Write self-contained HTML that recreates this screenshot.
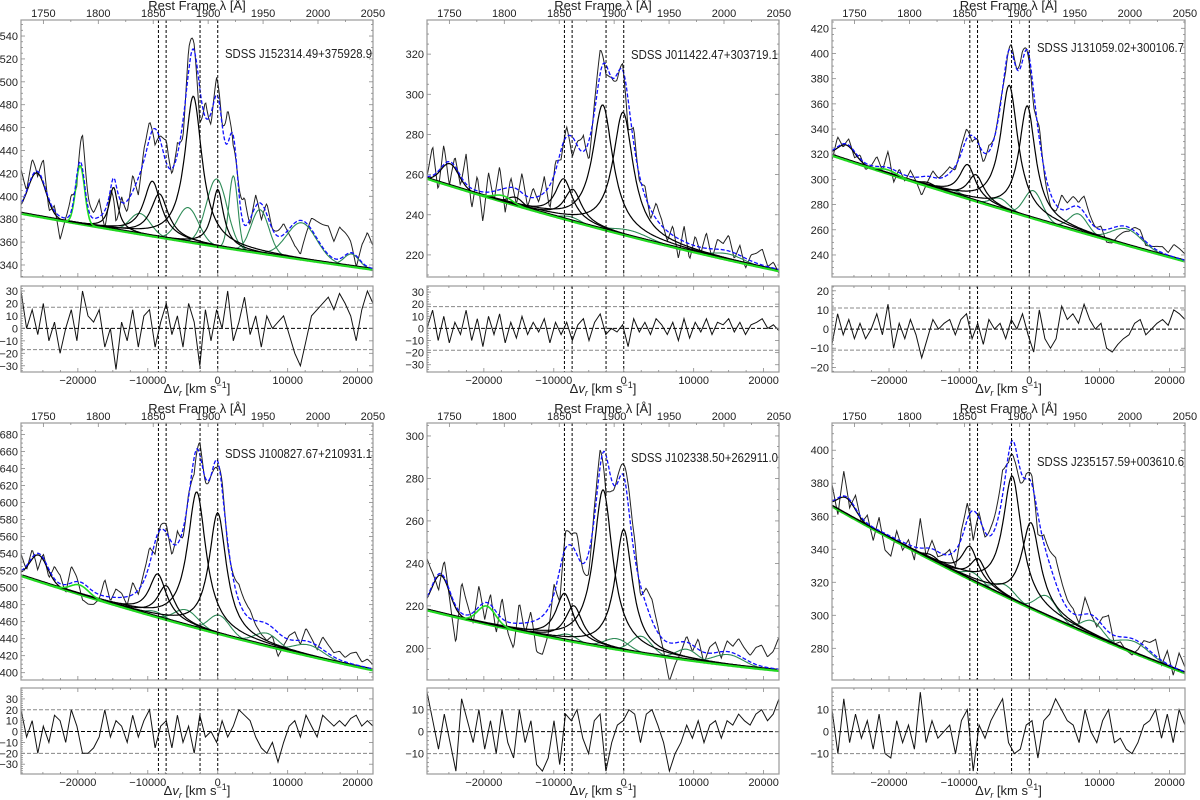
<!DOCTYPE html>
<html><head><meta charset="utf-8">
<style>
body{margin:0;background:#fff;width:1200px;height:800px;overflow:hidden;font-family:"Liberation Sans","DejaVu Sans",sans-serif}
svg{display:block}
</style></head>
<body>
<svg id="fig" width="1200" height="800" viewBox="0 0 1200 800" xmlns="http://www.w3.org/2000/svg"></svg>
<script>
// ---------- DATA (velocities km/s, fluxes) ----------
const vMin = -28130, vMax = 22200;
const vLinesKms = [-8480, -7380, -2530, 0];
const velTicks = [-20000, -10000, 0, 10000, 20000];
const lamTicks = [1750, 1800, 1850, 1900, 1950, 2000, 2050];
const panelNames = ["SDSS J152314.49+375928.9","SDSS J011422.47+303719.1","SDSS J131059.02+300106.7","SDSS J100827.67+210931.1","SDSS J102338.50+262911.0","SDSS J235157.59+003610.6"];

// continuum: [left, v=0, right]
const p1Cont = [385, 356, 336];
const p2Cont = [258, 230, 212];
const p3Cont = [319, 270, 235];
const p4Cont = [514, 446, 403];
const p5Cont = [218, 199, 189.5];
const p6Cont = [366, 304.6, 265];
// black components: [center, amplitude, FWHM, shape(0=gauss,1=lorentz)]
const p1Black = [[-25860,38,3000,0],[-14900,37,1500,1],[-9340,48,3000,1],[-8340,38,3000,1],[-3490,128,3000,1],[0,50,2000,1]];
const p2Black = [[-24850,11,3000,0],[-15470,4,2500,0],[-8570,20,3000,1],[-7280,16,3000,1],[-3000,62,3500,1],[-95,61,3500,1]];
const p3Black = [[-26090,12,3000,0],[-14420,3,2500,0],[-8810,27,2800,1],[-7620,21,2800,1],[-2860,100,3000,1],[-290,88,2800,1]];
const p4Black = [[-25610,31,3000,0],[-8570,51,3000,1],[-7380,40,3000,1],[-3000,160,3200,1],[0,142,3000,1]];
const p5Black = [[-26180,18,3000,0],[-8470,22,3000,1],[-7140,17,3000,1],[-2950,74,3300,1],[0,57,3000,1]];
const p6Black = [[-26090,10,3000,0],[-13950,3,2500,0],[-8470,20,2800,1],[-7280,15,2800,1],[-2430,75,3200,1],[240,52,3200,1]];
// bright green gaussians: [center, amp, FWHM]
const p1Bright = [[-19670,51,1500]];
const p2Bright = [[-17280,3,3000]];
const p3Bright = [[-20130,3,3000]];
const p4Bright = [[-19750,11,3000]];
const p5Bright = [[-19610,8.5,3000]];
const p6Bright = [];
// dark green gaussians: [center, amp, FWHM]
const p1Green = [[-11100,18,3500],[-4240,30,3500],[-150,59,3500],[2230,64,1500],[6040,38,3000],[12000,32,5000],[19140,11,2500]];
const p2Green = [[-7500,2,3000],[1000,3,6000],[15000,3,5000]];
const p3Green = [[-10610,3,3000],[-4190,8,3000],[570,22,3000],[7000,14,3000],[13900,13,5000]];
const p4Green = [[-9000,6,3000],[-4500,18,4000],[200,22,3500],[7000,15,4000],[13000,13,5000]];
const p5Green = [[-8000,3,3000],[-1000,5,4000],[2500,8,3500],[9000,5,3500],[15000,5,5000]];
const p6Green = [[-8000,5,3000],[-3500,7,3500],[2500,12,3500],[9000,9,3500],[15000,7,5000]];
// residuals (evenly spaced over velocity range)
const p1Resid = [30,0,15,-5,20,-10,5,-20,0,15,-10,30,10,5,15,-15,0,-33,5,-10,15,-15,10,15,-15,5,20,-5,10,-15,20,5,-30,15,-10,15,0,30,-10,5,25,-5,10,-15,10,0,5,10,-5,-20,-30,-10,10,15,20,25,15,28,20,10,-10,15,30,20];
const p2Resid = [0,15,-10,10,-12,5,-5,15,-10,8,-15,10,-5,12,-12,5,-8,10,-5,5,-3,8,-12,5,-5,5,-10,3,8,-10,5,12,-5,0,-3,3,-15,8,-3,5,-5,8,3,-5,5,-10,8,-8,5,-3,8,-5,5,3,8,-3,5,-5,3,5,8,0,3,-2];
const p3Resid = [-8,8,-3,5,-5,3,-5,0,8,-3,13,-10,3,-5,5,-3,-15,-5,5,0,3,5,-3,5,8,-5,3,-8,5,0,3,-5,5,0,8,-3,-12,10,-5,-10,-5,12,5,8,3,13,5,0,3,-10,-12,-8,-5,-3,3,5,-3,0,3,5,2,10,8,5];
const p4Resid = [20,-5,10,-20,5,-10,15,10,-10,20,5,-20,-20,-15,-5,20,-5,10,5,-10,15,-5,10,20,-15,5,10,-15,15,-10,5,-20,15,-5,0,-10,10,-5,5,20,15,10,-5,-15,-20,-10,-28,-10,5,10,-5,15,5,-5,15,10,5,10,5,12,15,5,10,5];
const p5Resid = [18,5,-8,8,-5,-18,15,5,-5,10,-8,5,-10,10,-5,-12,10,-5,5,-15,-18,-12,5,-15,8,5,10,-3,-10,5,8,-18,-5,3,5,10,8,-5,8,10,3,-5,-18,-10,-5,3,-3,5,-5,3,5,-3,5,3,8,5,3,8,10,5,8,15];
const p6Resid = [10,-10,15,-5,8,-3,5,-8,8,-10,-12,5,-5,3,-8,18,-5,5,-3,0,3,-10,5,10,-18,3,-3,5,10,15,-5,-10,-8,3,5,-12,5,8,15,10,5,3,-5,10,0,-5,5,10,-5,-3,-8,-10,-5,3,5,10,-3,8,-5,10,3];
// axis limits and ticks
const p1Y = [329.5,554], p1YT = [340,360,380,400,420,440,460,480,500,520,540], p1R = [-35,34], p1RT = [-30,-20,-10,0,10,20,30], p1S = 17;
const p2Y = [209,337], p2YT = [220,240,260,280,300,320], p2R = [-36,35], p2RT = [-30,-20,-10,0,10,20,30], p2S = 18;
const p3Y = [222.5,426.6], p3YT = [240,260,280,300,320,340,360,380,400,420], p3R = [-22.4,22.5], p3RT = [-20,-10,0,10,20], p3S = 11;
const p4Y = [391.4,693.6], p4YT = [400,420,440,460,480,500,520,540,560,580,600,620,640,660,680], p4R = [-39,40], p4RT = [-30,-20,-10,0,10,20,30], p4S = 20;
const p5Y = [185.1,306.1], p5YT = [200,220,240,260,280,300], p5R = [-19.3,19.9], p5RT = [-10,0,10], p5S = 10;
const p6Y = [260.8,416.5], p6YT = [280,300,320,340,360,380,400], p6R = [-19.3,19.9], p6RT = [-10,0,10], p6S = 10;

const panels = [
 {cont:p1Cont,black:p1Black,bright:p1Bright,green:p1Green,resid:p1Resid,y:p1Y,yt:p1YT,r:p1R,rt:p1RT,s:p1S,x0:21,x1:373,t:20,b:277,rt0:286,rb:372,lx:225,ly:58},
 {cont:p2Cont,black:p2Black,bright:p2Bright,green:p2Green,resid:p2Resid,y:p2Y,yt:p2YT,r:p2R,rt:p2RT,s:p2S,x0:427,x1:779,t:20,b:277,rt0:286,rb:372,lx:631,ly:59},
 {cont:p3Cont,black:p3Black,bright:p3Bright,green:p3Green,resid:p3Resid,y:p3Y,yt:p3YT,r:p3R,rt:p3RT,s:p3S,x0:832,x1:1185,t:20,b:277,rt0:286,rb:372,lx:1037,ly:52},
 {cont:p4Cont,black:p4Black,bright:p4Bright,green:p4Green,resid:p4Resid,y:p4Y,yt:p4YT,r:p4R,rt:p4RT,s:p4S,x0:21,x1:373,t:423,b:680,rt0:688,rb:774,lx:225,ly:458},
 {cont:p5Cont,black:p5Black,bright:p5Bright,green:p5Green,resid:p5Resid,y:p5Y,yt:p5YT,r:p5R,rt:p5RT,s:p5S,x0:427,x1:779,t:423,b:680,rt0:688,rb:774,lx:631,ly:462},
 {cont:p6Cont,black:p6Black,bright:p6Bright,green:p6Green,resid:p6Resid,y:p6Y,yt:p6YT,r:p6R,rt:p6RT,s:p6S,x0:832,x1:1185,t:423,b:680,rt0:688,rb:774,lx:1037,ly:466}
];

// ---------- RENDER ----------
const NS = "http://www.w3.org/2000/svg";
const fig = document.getElementById('fig');
function mk(tag, attrs, parent){const e=document.createElementNS(NS,tag);for(const k in attrs)e.setAttribute(k,attrs[k]);(parent||fig).appendChild(e);return e;}
function contAt(c,v){const a=vMin,b=0,d=vMax;
 return c[0]*(v-b)*(v-d)/((a-b)*(a-d))+c[1]*(v-a)*(v-d)/((b-a)*(b-d))+c[2]*(v-a)*(v-b)/((d-a)*(d-b));}
function prof(comp,v,lor){const [c,a,w]=comp;const z=(v-c)/(w/2);
 return lor? a/(1+z*z) : a*Math.exp(-Math.LN2*z*z);}
function interp(arr,v){const t=(v-vMin)/(vMax-vMin)*(arr.length-1);const i=Math.max(0,Math.min(arr.length-2,Math.floor(t)));const f=t-i;return arr[i]*(1-f)+arr[i+1]*f;}
const N=360, vs=[];for(let i=0;i<=N;i++)vs.push(vMin+(vMax-vMin)*i/N);
const C=299792.458, L0=1908.73;

panels.forEach((P,pi)=>{
 const g=mk('g',{});
 
 
 const X=v=>P.x0+(v-vMin)/(vMax-vMin)*(P.x1-P.x0);
 const Y=f=>P.b-(f-P.y[0])/(P.y[1]-P.y[0])*(P.b-P.t);
 const R=f=>P.rb-(f-P.r[0])/(P.r[1]-P.r[0])*(P.rb-P.rt0);
 const cid='clipm'+pi, rid='clipr'+pi;
 const defs=mk('defs',{},g);
 mk('rect',{x:P.x0,y:P.t,width:P.x1-P.x0,height:P.b-P.t},mk('clipPath',{id:cid},defs));
 mk('rect',{x:P.x0,y:P.rt0,width:P.x1-P.x0,height:P.rb-P.rt0},mk('clipPath',{id:rid},defs));
 const gm=mk('g',{'clip-path':'url(#'+cid+')'},g);
 const gr=mk('g',{'clip-path':'url(#'+rid+')'},g);
 const path=(fn,sc)=>vs.map((v,i)=>(i?'L':'M')+X(v).toFixed(1)+','+sc(fn(v)).toFixed(1)).join('');
 const model=v=>{let s=contAt(P.cont,v);P.black.forEach(c=>s+=prof(c,v,c[3]===1));P.bright.forEach(c=>s+=prof(c,v,false));P.green.forEach(c=>s+=prof(c,v,false));return s;};
 let e=mk('path',{d:path(v=>model(v)+interp(P.resid,v),Y),fill:'none',stroke:'#222','stroke-width':1},gm);
 
 
 P.green.forEach((c,k)=>{const el=mk('path',{d:path(v=>contAt(P.cont,v)+prof(c,v,false),Y),fill:'none',stroke:'#2e8b57','stroke-width':1.1},gm);
  
  });
 P.black.forEach((c,k)=>{const el=mk('path',{d:path(v=>contAt(P.cont,v)+prof(c,v,c[3]===1),Y),fill:'none',stroke:'#000','stroke-width':1.2},gm);
  
  });
 e=mk('path',{d:path(v=>contAt(P.cont,v),f=>Y(f)-0.8),fill:'none',stroke:'#000','stroke-width':2},gm);
 
 
 e=mk('path',{d:path(v=>contAt(P.cont,v),f=>Y(f)+0.6),fill:'none',stroke:'#1ed21e','stroke-width':1.6},gm);
 
 
 P.bright.forEach(c=>{const el=mk('path',{d:path(v=>contAt(P.cont,v)+prof(c,v,false),Y),fill:'none',stroke:'#22dd22','stroke-width':1.6},gm);
  
  });
 e=mk('path',{d:path(model,Y),fill:'none',stroke:'#1010ff','stroke-width':1.3,'stroke-dasharray':'4,2'},gm);
 
 
 [[P.s,'#888'],[-P.s,'#888'],[0,'#000']].forEach(([val,col])=>{const el=mk('line',{x1:P.x0,x2:P.x1,y1:R(val),y2:R(val),stroke:col,'stroke-width':1,'stroke-dasharray':'4,2'},gr);
  
  });
 e=mk('path',{d:P.resid.map((r,i)=>(i?'L':'M')+X(vMin+(vMax-vMin)*i/(P.resid.length-1)).toFixed(1)+','+R(r).toFixed(1)).join(''),fill:'none',stroke:'#111','stroke-width':1},gr);
 
 
 vLinesKms.forEach(v=>{[[P.t,P.b],[P.rt0,P.rb]].forEach(([a,b])=>{const el=mk('line',{x1:X(v),x2:X(v),y1:a,y2:b,stroke:'#000','stroke-width':1,'stroke-dasharray':'3,2'},g);
  
  });});
 [[P.t,P.b],[P.rt0,P.rb]].forEach(([a,b],k)=>{const el=mk('rect',{x:P.x0,y:a,width:P.x1-P.x0,height:b-a,fill:'none',stroke:'#999','stroke-width':1.2},g);
  
  });
 const tk=(x1,y1,x2,y2)=>mk('line',{x1,y1,x2,y2,stroke:'#888','stroke-width':0.8},g);
 const txt=(s,x,y,anchor,size,name)=>{const el=mk('text',{x,y,'text-anchor':anchor,'font-size':size,fill:'#222'},g);el.textContent=s;
  
  return el;};
 const ystep=P.yt[1]-P.yt[0];
 for(let f=P.yt[0]-ystep;f<=P.y[1];f+=ystep/4){if(f<P.y[0])continue;const y=Y(f);const maj=P.yt.includes(Math.round(f*100)/100);const l=maj?4:2;tk(P.x0,y,P.x0+l,y);tk(P.x1,y,P.x1-l,y);}
 P.yt.forEach(f=>txt(String(f),P.x0-3,Y(f)+4,'end',11,'y-tick-label'));
 P.rt.forEach(f=>{tk(P.x0,R(f),P.x0+4,R(f));tk(P.x1,R(f),P.x1-4,R(f));txt(f<0?'\u2212'+(-f):String(f),P.x0-3,R(f)+4,'end',11,'residual-tick-label');});
 for(let f=Math.ceil(P.r[0]/2)*2;f<=P.r[1];f+=2){tk(P.x0,R(f),P.x0+2,R(f));}
 for(let v=-25000;v<=22000;v+=2500){const maj=v%10000===0;const l=maj?4:2;tk(X(v),P.rb,X(v),P.rb-l);tk(X(v),P.rt0,X(v),P.rt0+l);tk(X(v),P.b,X(v),P.b-l);}
 velTicks.forEach(v=>txt(v<0?'\u2212'+(-v):String(v),X(v),P.rb+12,'middle',11,'x-tick-label'));
 for(let lam=1725;lam<=2050;lam+=25){const v=C*(lam/L0-1);if(v<vMin-1||v>vMax+300)continue;const maj=lam%50===0;tk(X(v),P.t,X(v),P.t+(maj?4:2));}
 lamTicks.forEach(lam=>txt(String(lam),X(C*(lam/L0-1)),P.t-3,'middle',11,'wavelength-tick-label'));
 txt('Rest Frame \u03bb [\u00c5]',(P.x0+P.x1)/2,P.t-10,'middle',13,'top-axis-title');
 const xt=mk('text',{x:(P.x0+P.x1)/2,y:P.rb+21,'text-anchor':'middle','font-size':13,fill:'#222'},g);
 
 
 xt.innerHTML='\u0394<tspan font-style="italic">v</tspan><tspan font-style="italic" font-size="9" dy="3">r</tspan><tspan dy="-3"> [km s</tspan><tspan font-size="9" dy="-5">\u22121</tspan><tspan dy="5">]</tspan>';
 const lab=txt(panelNames[pi],P.lx,P.ly,'start',12.5,'object-name-label');
 lab.setAttribute('textLength','147');
 lab.setAttribute('lengthAdjust','spacingAndGlyphs');
});
</script>
</body></html>
